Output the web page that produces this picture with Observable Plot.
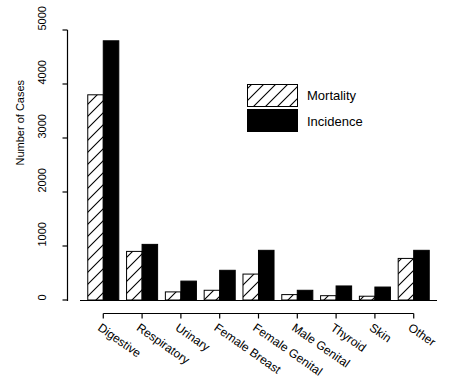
<!DOCTYPE html>
<html><head><meta charset="utf-8">
<script src="https://cdn.jsdelivr.net/npm/d3@7"></script>
<script src="https://cdn.jsdelivr.net/npm/@observablehq/plot@0.6"></script>
<style>body{margin:0;background:#fff}</style>
</head><body><div id="chart"></div>
<script>
const categories = ["Digestive","Respiratory","Urinary","Female Breast","Female Genital","Male Genital","Thyroid","Skin","Other"];
const mortality = [3800, 900, 150, 180, 480, 100, 80, 70, 770];
const incidence = [4800, 1030, 350, 550, 920, 180, 260, 240, 920];
const yTicks = [0, 1000, 2000, 3000, 4000, 5000];
const seriesNames = ["Mortality", "Incidence"];
const yTitle = "Number of Cases";

const mortRows = categories.map((c, i) => ({category: c, value: mortality[i]}));
const incRows = categories.map((c, i) => ({category: c, value: incidence[i]}));

const font = "'Liberation Sans', Arial, Helvetica, sans-serif";
const W = 470, H = 380;
const bw = 31; // group bandwidth approx
const plot = Plot.plot({
  width: W, height: H,
  marginLeft: 80, marginRight: 33, marginTop: 30, marginBottom: 80,
  style: {fontFamily: font, fontSize: "11px", color: "black", background: "white", overflow: "visible"},
  x: {domain: categories, paddingInner: 0.2, paddingOuter: 0.2, round: false, axis: null},
  y: {domain: [0, 5000], axis: null},
  marks: [
    Plot.barY(mortRows, {x: "category", y: "value", fill: "url(#hatch)", stroke: "black", strokeWidth: 1, insetRight: bw / 2}),
    Plot.barY(incRows, {x: "category", y: "value", fill: "black", stroke: "black", strokeWidth: 1, insetLeft: bw / 2}),
    Plot.ruleY([0], {stroke: "black", strokeWidth: 1.2}),
    Plot.frame({anchor: "left", dx: -13, stroke: "black", strokeWidth: 1.2}),
    Plot.text(yTicks, {y: d => d, text: d => String(d), frameAnchor: "left", dx: -38, rotate: -90, fontSize: 11, fill: "black"}),
    Plot.text([yTitle], {frameAnchor: "left", dx: -60, rotate: -90, fontSize: 11, fill: "black"}),
    Plot.text(categories, {x: d => d, text: d => d, frameAnchor: "bottom", dy: 22, dx: -2, rotate: 35, textAnchor: "start", lineAnchor: "top", fontSize: 12, fill: "black"})
  ]
});
document.getElementById("chart").appendChild(plot);

const svg = d3.select(plot);
const defs = svg.insert("defs", ":first-child");
const pat = defs.append("pattern").attr("id", "hatch").attr("patternUnits", "userSpaceOnUse").attr("width", 12).attr("height", 12);
pat.append("rect").attr("width", 12).attr("height", 12).attr("fill", "white");
pat.append("path").attr("d", "M-3,3 L3,-3 M0,12 L12,0 M9,15 L15,9").attr("stroke", "black").attr("stroke-width", 1.1);

// R-style axes, positioned from the ranges of the plot's own scales
const xsP = plot.scale("x"), ysP = plot.scale("y");
const xb = d3.scaleBand(categories, xsP.range).paddingInner(0.2).paddingOuter(0.2);
const yl = d3.scaleLinear(ysP.domain, ysP.range);
const cx = c => xb(c) + xb.bandwidth() / 2;
const y0 = yl(0);
const axG = svg.append("g").attr("stroke", "black").attr("stroke-width", 1.2).attr("fill", "none");
const bracketY = y0 + 13.5;
axG.append("line").attr("x1", cx(categories[0])).attr("x2", cx(categories[categories.length - 1]))
  .attr("y1", bracketY).attr("y2", bracketY);
categories.forEach(c => axG.append("line").attr("x1", cx(c)).attr("x2", cx(c)).attr("y1", bracketY).attr("y2", bracketY + 5));
const axisXpos = xsP.range[0] - 13 + 0.5;
yTicks.forEach(t => axG.append("line").attr("x1", axisXpos).attr("x2", axisXpos - 5).attr("y1", yl(t)).attr("y2", yl(t)));

const lg = svg.append("g").attr("font-family", font).attr("font-size", 13).attr("text-anchor", "start");
const fills = ["url(#hatch)", "black"];
seriesNames.forEach((s, i) => {
  lg.append("rect").attr("x", 247.5).attr("y", 84.5 + i * 25).attr("width", 50).attr("height", 22)
    .attr("fill", fills[i]).attr("stroke", "black");
  lg.append("text").attr("x", 307).attr("y", 100 + i * 26).attr("fill", "black").text(s);
});
</script></body></html>
